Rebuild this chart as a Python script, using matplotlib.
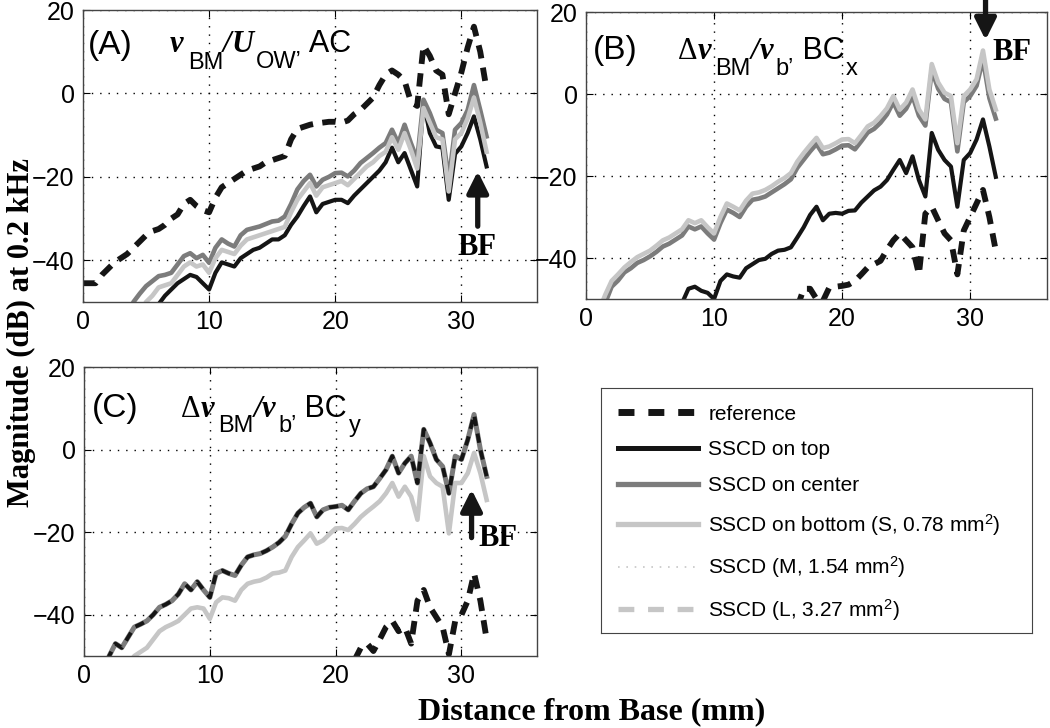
import numpy as np
import matplotlib
matplotlib.use('Agg')
import matplotlib.pyplot as plt
from matplotlib.lines import Line2D

plt.rcParams['font.family'] = ['Liberation Sans', 'DejaVu Sans']
plt.rcParams['mathtext.fontset'] = 'custom'
plt.rcParams['mathtext.rm'] = 'Liberation Sans'
plt.rcParams['mathtext.it'] = 'Liberation Sans:italic'

nan = np.nan
# distance from base (mm), 0.5 mm steps
dist = np.arange(0, 32.5, 0.5)

# (A) AC
ref_A = [-45.5, -45.5, -45.5, -43.5, -42, -40.5, -39.5, -38.5, -37, -35.5,
         -34, -33, -32.5, -31.5, -30, -29, -26.5, -25.5, -27, -28,
         -28.5, -25, -22.5, -21.5, -20.5, -19.5, -18.5, -18, -17.5, -16.5,
         -16, -15.5, -15, -11, -8.5, -8, -7.5, -7.2, -7, -6.8,
         -6.8, -7, -6.5, -5, -4, -2.5, -1, 2, 4.5, 5.5,
         4.5, 3, -2, -3, 11.5, 9, 5.5, 4.5, -5, 0,
         5, 11, 16, 10, 1]
top_A = [nan, nan, nan, nan, nan, nan, nan, nan, nan, nan,
         nan, -54, -50.5, -48.5, -47, -45.5, -44.5, -43.5, -44, -45.5,
         -47, -43, -40.5, -41, -41.5, -39.5, -38.5, -37.5, -37, -36,
         -35, -35, -34, -31.5, -29.5, -27, -24.7, -28.5, -26.5, -26,
         -25.5, -25.5, -26.3, -24.5, -23, -21.5, -20, -18.5, -16.5, -13,
         -16.5, -14.3, -18.3, -22.3, -2, -9.5, -12.7, -13, -25.5, -14.5,
         -12.7, -9.5, -5.5, -11, -17.5]
center_A = [nan, nan, nan, nan, nan, nan, nan, -54, -50, -48,
            -46.2, -45, -43.8, -43.5, -43, -41, -39, -38.3, -39.5, -38.7,
            -40.6, -37, -35, -36, -36.7, -34, -32.7, -32.3, -31.9, -31.3,
            -30.7, -30.5, -29.5, -26.5, -23, -21, -19.5, -22.3, -20.7, -20,
            -19.1, -19, -19.9, -18.5, -16.7, -15.5, -14.3, -13, -11.9, -8.7,
            -11.9, -7.5, -11.9, -15.9, -1.5, -4.7, -8.7, -9.5, -20.7, -8.7,
            -7.1, -4, 2, -4, -10.3]
bottom_A = [nan, nan, nan, nan, nan, nan, nan, nan, nan, -53,
            -50, -48.5, -46.5, -46, -45.5, -43.5, -41.5, -40.5, -41.5, -41,
            -43, -39.5, -37.5, -38, -38.5, -36.5, -35, -34.5, -34, -33.5,
            -33, -32.5, -32, -28.5, -25.5, -23.5, -21.5, -24.5, -22.5, -22,
            -21.5, -21, -22, -20.5, -19, -17.5, -16.5, -15, -14, -10.5,
            -13.5, -9.5, -13.5, -18, -3.5, -7, -10.5, -11, -23.5, -11,
            -9.5, -6, -1, -7, -14]

# (B) BCx
ref_B = [nan, nan, nan, nan, nan, nan, nan, nan, nan, nan,
         nan, nan, nan, nan, nan, nan, nan, nan, nan, nan,
         nan, nan, nan, nan, nan, nan, nan, nan, nan, nan,
         nan, nan, nan, -52, -47.5, -47.5, -50, -50.5, -47.2, -47,
         -46.8, -46.5, -45.6, -44, -42.3, -41.5, -40.7, -38, -35.7, -34,
         -35.7, -37.4, -44, -29.2, -27.5, -30.8, -34, -35.7, -44, -33.3,
         -30, -26.7, -23.4, -30, -38.2]
top_B = [nan, nan, nan, nan, nan, nan, nan, nan, nan, nan,
         nan, nan, nan, nan, -53, -51, -47.5, -47, -48, -48.5,
         -50, -45.6, -44, -44.5, -44.8, -42.5, -41.5, -40.5, -40.2, -39,
         -38.2, -38, -37.4, -35, -32.5, -29.5, -27.5, -30.8, -29.2, -29,
         -29.2, -28.5, -28.4, -26.5, -25, -23.5, -22.6, -21, -18.5, -16.1,
         -19.3, -15.2, -21, -25, -9.5, -13.6, -16.1, -17.7, -27.5, -16.1,
         -14.4, -11.1, -6.2, -12.8, -20.2]
center_B = [nan, nan, -55, -51, -47, -45.5, -43.5, -42.5, -41.2, -40.5,
            -39.6, -38.5, -37.2, -36.5, -35.5, -34.5, -32.3, -33, -32.3, -34,
            -35.5, -31.5, -28.2, -29, -30, -27.5, -25.8, -25.5, -25, -24,
            -23, -22, -20.8, -18, -16, -14, -12.2, -14.7, -14.3, -13.5,
            -12.6, -12.5, -13.5, -11.5, -9.4, -8.5, -7, -5, -2, -5.3,
            -3.6, -0.5, -5.3, -7.7, 5.8, 1.3, -1.2, -2, -14, -2,
            -0.5, 2, 8.5, -1, -6]
bottom_B = [nan, -57, -53, -49, -45.6, -44, -42.3, -41, -39.8, -39,
            -38.2, -37, -35.7, -35, -34, -33, -30.8, -31.5, -30.8, -32.5,
            -34, -30, -26.7, -27.5, -28.4, -26, -24.3, -24, -23.4, -22.5,
            -21.4, -20.5, -19.3, -16.5, -14.4, -12.5, -10.7, -13.2, -12.8, -12,
            -11.1, -11, -12, -10, -7.9, -7, -5.4, -3.5, -0.5, -3.8,
            -2.1, 1.1, -3.8, -6.2, 7.3, 2.8, 0.3, -0.5, -12, -0.5,
            1.1, 3.6, 10.6, 1.1, -3.8]

# (C) BCy
ref_C = [nan, nan, nan, nan, nan, nan, nan, nan, nan, nan,
         nan, nan, nan, nan, nan, nan, nan, nan, nan, nan,
         nan, nan, nan, nan, nan, nan, nan, nan, nan, nan,
         nan, nan, nan, nan, nan, nan, nan, nan, nan, nan,
         nan, nan, nan, -51, -48, -47, -48.8, -46, -43, -41.5,
         -44, -43, -47, -36.6, -34, -38.2, -40.6, -43, -49.6, -41.5,
         -40, -36.6, -30, -36.6, -46]
top_C = [nan, nan, nan, -55, -50, -47, -48, -45.5, -43, -42.3,
         -41.5, -40, -38.2, -37.5, -36.6, -35, -32.5, -34, -32, -34,
         -35.8, -30, -29.3, -30, -30.5, -28, -26, -25.5, -25.2, -24.5,
         -23.6, -22.5, -21, -18, -15.4, -14, -13, -16.3, -14.6, -14,
         -13.8, -13.5, -14.6, -12.5, -10.6, -9.5, -9, -7, -4.9, -1.6,
         -5.7, -3.3, -1.6, -8.1, 4.9, 1.6, -2.4, -4.1, -10.6, -1.6,
         -2.4, 2.4, 8.5, 0, -6.5]
center_C = list(top_C)
bottom_C = [nan, nan, nan, nan, nan, nan, nan, -52, -50, -49,
            -48, -46, -44, -43, -42.3, -41.5, -40, -38.5, -38.2, -38.5,
            -41, -37, -35.8, -36, -36.6, -34, -32.5, -32, -31.7, -31,
            -30, -29.8, -29.3, -26, -23.6, -22, -20.3, -22.8, -22, -20.5,
            -19.1, -19, -19.5, -18, -16.3, -15, -13.8, -12.5, -10.6, -8.1,
            -11.4, -9, -11.4, -17, -1.6, -6.5, -8.1, -9, -20.3, -8.1,
            -8.1, -5.7, -0.8, -5.7, -12.2]

BLACK = '#151515'
GRAY = '#7c7c7c'
LIGHT = '#c6c6c6'
REF = dict(color=BLACK, lw=4.2, dashes=(2.3, 1.6))
TOP = dict(color=BLACK, lw=3.0)
CEN = dict(color=GRAY, lw=3.3)
BOT = dict(color=LIGHT, lw=3.3)
serif = 'Liberation Serif'
BI = dict(family=serif, fontweight='bold', style='italic')
MAIN, SUB = 22, 17

W, H = 1050, 728
fig = plt.figure(figsize=(W / 100, H / 100), dpi=100)


def box(l, t, r, b):
    return [l / W, 1 - b / H, (r - l) / W, (b - t) / H]


def setup(ax):
    ax.set_xlim(0, 36)
    ax.set_ylim(-50, 20)
    ax.set_xticks([0, 10, 20, 30])
    ax.set_yticks([-40, -20, 0, 20])
    ax.grid(True, ls=(0, (1, 5)), color='k', lw=1.0)
    ax.tick_params(direction='in', labelsize=18, length=5, top=True, right=True, pad=6)
    for s in ax.spines.values():
        s.set_color('#444444')
        s.set_linewidth(1.0)


def title(ax, x, y, parts):
    # parts: (text, size, style, dx, dy) with offsets in points from the previous piece
    s, size, kw = parts[0][:3]
    prev = ax.text(x, y, s, fontsize=size, va='baseline', **kw)
    for s, size, kw, dx, dy in parts[1:]:
        prev = ax.annotate(s, xy=(1, 0), xycoords=prev, xytext=(dx, dy),
                           textcoords='offset points', fontsize=size, va='bottom', **kw)


axA = fig.add_axes(box(83, 10, 537, 302))
axB = fig.add_axes(box(586, 12, 1047, 299))
axC = fig.add_axes(box(84, 367, 537, 656))
for ax in (axA, axB, axC):
    setup(ax)

arrow = dict(arrowstyle='-|>', color=BLACK, lw=3.8, mutation_scale=32)
bf = dict(ha='center', va='center', fontsize=22, fontweight='bold', family=serif)
SERIF = dict(family=serif)


def dv_title(ax, x, y, comp):
    title(ax, x, y, [('Δ', MAIN, SERIF), ('v', MAIN, BI, 0, 0), ('BM', SUB, {}, 3, -10),
                     ('/', MAIN, BI, 0, 10), ('v', MAIN, BI, 0, 0), ('b’', SUB, {}, 2, -10),
                     (' BC', MAIN, {}, 0, 10), (comp, SUB, {}, 1, -10)])


# panel A
axA.plot(dist, ref_A, **REF)
axA.plot(dist, top_A, **TOP)
axA.plot(dist, center_A, **CEN)
axA.plot(dist, bottom_A, **BOT)
axA.text(0.4, 9.5, '(A)', fontsize=24)
title(axA, 6.9, 10, [('v', MAIN, BI), ('BM', SUB, {}, 3, -11), ('/', MAIN, BI, 0, 11),
                     ('U', MAIN, BI, 0, 0), ('OW’', SUB, {}, 2, -10), (' AC', MAIN, {}, 0, 10)])
axA.annotate('', xy=(31.3, -18), xytext=(31.3, -32.5), arrowprops=arrow)
axA.text(31.2, -37, 'BF', **bf)

# panel B
axB.plot(dist, ref_B, **REF)
axB.plot(dist, top_B, **TOP)
axB.plot(dist, center_B, **CEN)
axB.plot(dist, bottom_B, **BOT)
axB.text(0.5, 8.5, '(B)', fontsize=24)
dv_title(axB, 7.2, 8.5, 'x')
axB.annotate('', xy=(31.2, 12.5), xytext=(31.2, 31), annotation_clip=False, arrowprops=arrow)
axB.text(33.3, 10, 'BF', **bf)

# panel C
axC.plot(dist, ref_C, **REF)
axC.plot(dist, bottom_C, **BOT)
axC.plot(dist, center_C, color=GRAY, lw=3.6)
axC.plot(dist, top_C, color=BLACK, lw=2.8, dashes=(2.4, 2.0))
axC.text(0.6, 8, '(C)', fontsize=24)
dv_title(axC, 7.7, 8, 'y')
axC.annotate('', xy=(30.8, -9), xytext=(30.8, -22), arrowprops=arrow)
axC.text(32.9, -21.5, 'BF', **bf)

fig.text(0.02, 0.543, 'Magnitude (dB) at 0.2 kHz', rotation=90, ha='center', va='center',
         fontsize=22, fontweight='bold', family=serif)
fig.text(592 / W, 0.022, 'Distance from Base (mm)', ha='center', va='center',
         fontsize=23, fontweight='bold', family=serif)

# legend box
lax = fig.add_axes(box(601, 388, 1032, 633))
lax.set_xticks([])
lax.set_yticks([])
for s in lax.spines.values():
    s.set_color('#444444')
handles = [Line2D([], [], color=BLACK, lw=5, dashes=(2.3, 2.0)),
           Line2D([], [], color=BLACK, lw=3.6),
           Line2D([], [], color=GRAY, lw=3.8),
           Line2D([], [], color=LIGHT, lw=3.8),
           Line2D([], [], color=LIGHT, lw=1.2, dashes=(1, 4)),
           Line2D([], [], color=LIGHT, lw=3.8, dashes=(3.0, 2.6))]
labels = ['reference', 'SSCD on top', 'SSCD on center',
          'SSCD on bottom (S, 0.78 mm$^2$)', 'SSCD (M, 1.54 mm$^2$)', 'SSCD (L, 3.27 mm$^2$)']
lax.legend(handles, labels, loc='upper left', frameon=False, fontsize=15,
           handlelength=3.85, handletextpad=0.5, labelspacing=0.8,
           borderaxespad=0.3, borderpad=0.5)

fig.savefig('out.png', dpi=100)
